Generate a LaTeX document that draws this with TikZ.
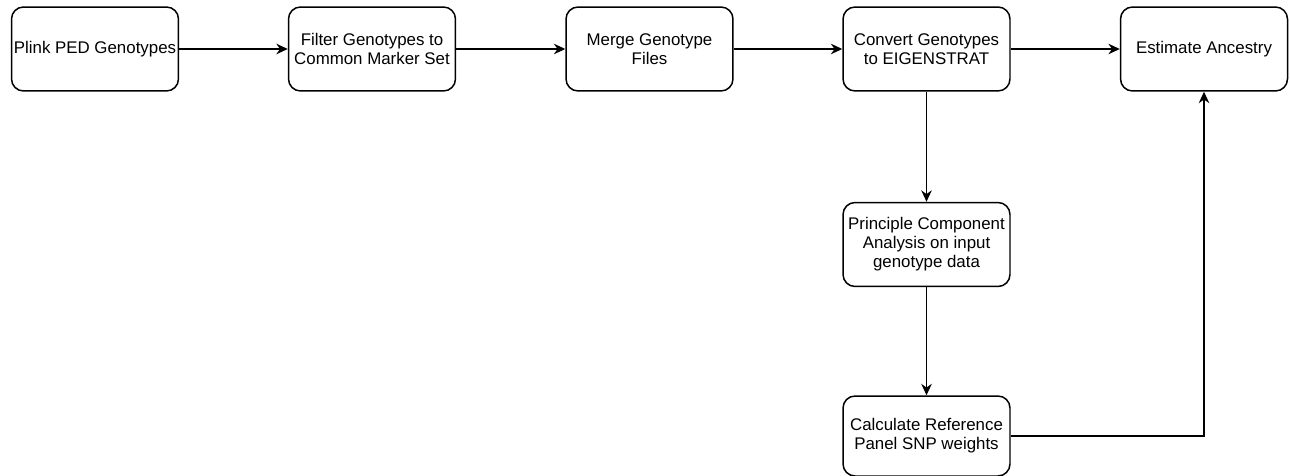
\documentclass[tikz,border=0pt]{standalone}
\usepackage{fontspec}
\setmainfont{Liberation Sans}
\usetikzlibrary{arrows.meta}

\begin{document}
\begin{tikzpicture}
[x=0.02cm,y=-0.02cm,
 stepbox/.style={draw,line width=0.85pt,rounded corners=0.24cm,align=center,
   minimum width=3.34cm,minimum height=1.68cm,inner sep=1pt,
   font=\fontsize{9.6}{10.8}\selectfont},
 flow/.style={line width=0.8pt,-{Stealth[length=6.5pt,width=6pt]}}]
\useasboundingbox (0,0) rectangle (1290,476);

\node[stepbox] (s1) at (95,49) {Plink PED Genotypes};
\node[stepbox] (s2) at (372,49) {Filter Genotypes to\\Common Marker Set};
\node[stepbox] (s3) at (649.5,49) {Merge Genotype\\Files};
\node[stepbox] (s4) at (926.5,49) {Convert Genotypes\\to EIGENSTRAT};
\node[stepbox] (s5) at (1204,49) {Estimate Ancestry};

\node[stepbox] (s6) at (926.5,244.5) {Principle Component\\Analysis on input\\genotype data};
\node[stepbox,minimum height=1.6cm] (s7) at (926.5,436) {Calculate Reference\\Panel SNP weights};

\foreach \from/\to in {s1/s2,s2/s3,s3/s4,s4/s5,s4/s6,s6/s7}
\draw[flow] (\from) -- (\to);
\draw[flow] (s7.east) -| (s5.south);
\end{tikzpicture}
\end{document}
